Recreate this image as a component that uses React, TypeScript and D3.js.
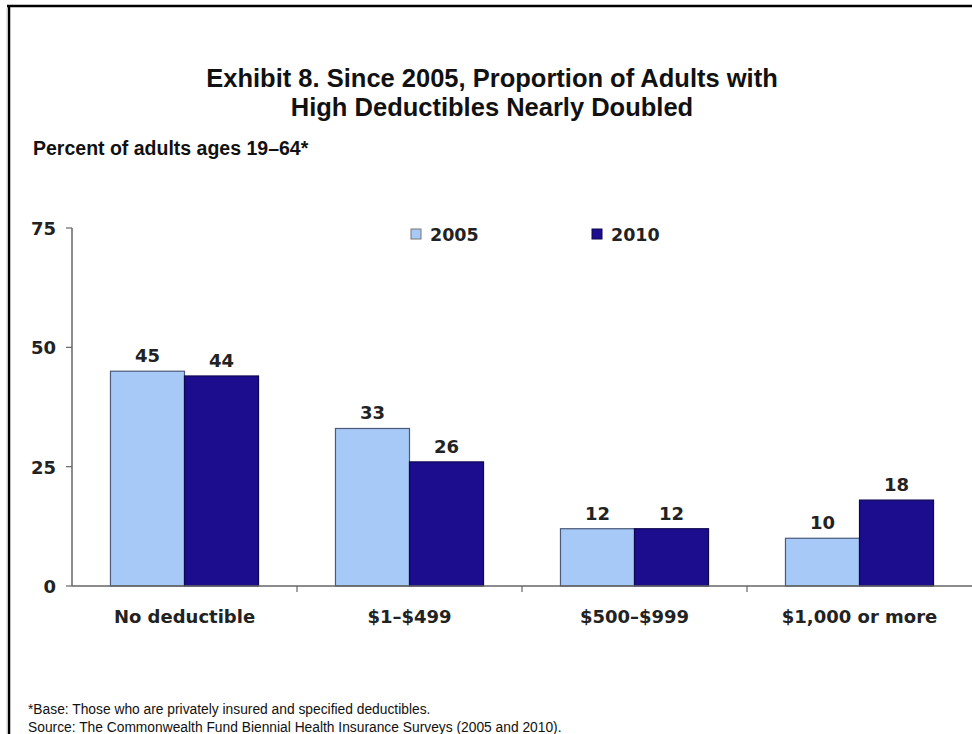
import React from "react";
import * as d3 from "d3";

const categories = ["No deductible", "$1–$499", "$500–$999", "$1,000 or more"];
const seriesNames = ["2005", "2010"];
const values2005 = [45, 33, 12, 10];
const values2010 = [44, 26, 12, 18];
const yTicks = [0, 25, 50, 75];
const titleLines = [
  "Exhibit 8. Since 2005, Proportion of Adults with",
  "High Deductibles Nearly Doubled",
];
const subtitle = "Percent of adults ages 19–64*";
const footnotes = [
  "*Base: Those who are privately insured and specified deductibles.",
  "Source: The Commonwealth Fund Biennial Health Insurance Surveys (2005 and 2010).",
];

const W = 972;
const H = 734;
const colors = ["#a6c9f7", "#1c0c8e"];
const strokes = ["#4a5a78", "#0e0850"];

export default function App() {
  const x0 = d3
    .scaleBand<string>()
    .domain(categories)
    .range([72, 972])
    .paddingInner(0.342)
    .paddingOuter(0.171);
  const x1 = d3
    .scaleBand<string>()
    .domain(seriesNames)
    .range([0, x0.bandwidth()]);
  const y = d3.scaleLinear().domain([0, 75]).range([586, 228]);
  const data = [values2005, values2010];
  const step = x0.step();
  const boundaries = categories.slice(1).map((c) => (x0(c) as number) - (step - x0.bandwidth()) / 2);
  const bold = "'DejaVu Sans', sans-serif";
  const arial = "'Liberation Sans', Arial, sans-serif";

  return (
    <svg
      width={W}
      height={H}
      style={{ position: "absolute", left: 0, top: 0, background: "#fff" }}
    >
      <rect x={0} y={0} width={W} height={H} fill="#fff" />
      {/* frame */}
      <line x1={7} y1={6} x2={W} y2={6} stroke="#000" strokeWidth={2.5} />
      <line x1={9} y1={5} x2={9} y2={H} stroke="#000" strokeWidth={2.5} />
      <line x1={7} y1={8} x2={7} y2={H} stroke="#ccc" strokeWidth={1} />

      {/* title */}
      {titleLines.map((t, i) => (
        <text
          key={i}
          x={492}
          y={87 + i * 29}
          textAnchor="middle"
          fontFamily={arial}
          fontWeight="bold"
          fontSize={25.5}
          fill="#111"
        >
          {t}
        </text>
      ))}
      <text x={33} y={155} fontFamily={arial} fontWeight="bold" fontSize={19.5} fill="#111">
        {subtitle}
      </text>

      {/* y axis */}
      <line x1={72} y1={228} x2={72} y2={586} stroke="#666" strokeWidth={1.5} />
      {yTicks.map((t) => (
        <g key={t}>
          <line x1={66} x2={72} y1={y(t)} y2={y(t)} stroke="#666" strokeWidth={1.2} />
          <text
            x={56}
            y={y(t) + 7}
            textAnchor="end"
            fontFamily={bold}
            fontWeight="bold"
            fontSize={18}
            fill="#222"
          >
            {t}
          </text>
        </g>
      ))}

      {/* bars */}
      {categories.map((c, ci) => (
        <g key={c} transform={`translate(${x0(c)},0)`}>
          {seriesNames.map((s, si) => {
            const v = data[si][ci];
            const bx = x1(s) as number;
            return (
              <g key={s}>
                <rect
                  x={bx}
                  y={y(v)}
                  width={x1.bandwidth()}
                  height={y(0) - y(v)}
                  fill={colors[si]}
                  stroke={strokes[si]}
                  strokeWidth={1.2}
                />
                <text
                  x={bx + x1.bandwidth() / 2}
                  y={y(v) - 9}
                  textAnchor="middle"
                  fontFamily={bold}
                  fontWeight="bold"
                  fontSize={18}
                  fill="#222"
                >
                  {v}
                </text>
              </g>
            );
          })}
          <text
            x={x0.bandwidth() / 2}
            y={623}
            textAnchor="middle"
            fontFamily={bold}
            fontWeight="bold"
            fontSize={18}
            fill="#222"
          >
            {c}
          </text>
        </g>
      ))}

      {/* x axis */}
      <line x1={72} y1={586} x2={972} y2={586} stroke="#666" strokeWidth={1.5} />
      {boundaries.map((b, i) => (
        <line key={i} x1={b} x2={b} y1={586} y2={592} stroke="#666" strokeWidth={1.2} />
      ))}

      {/* legend */}
      {seriesNames.map((s, i) => {
        const lx = i === 0 ? 411 : 592;
        return (
          <g key={s}>
            <rect
              x={lx}
              y={229}
              width={10}
              height={10}
              fill={colors[i]}
              stroke={i === 0 ? "#777" : strokes[i]}
              strokeWidth={1}
            />
            <text
              x={lx + 19}
              y={241}
              fontFamily={bold}
              fontWeight="bold"
              fontSize={17.5}
              fill="#222"
            >
              {s}
            </text>
          </g>
        );
      })}

      {/* footnotes */}
      {footnotes.map((f, i) => (
        <text key={i} x={28} y={714 + i * 18} fontFamily={arial} fontSize={13.8} fill="#111">
          {f}
        </text>
      ))}
    </svg>
  );
}
